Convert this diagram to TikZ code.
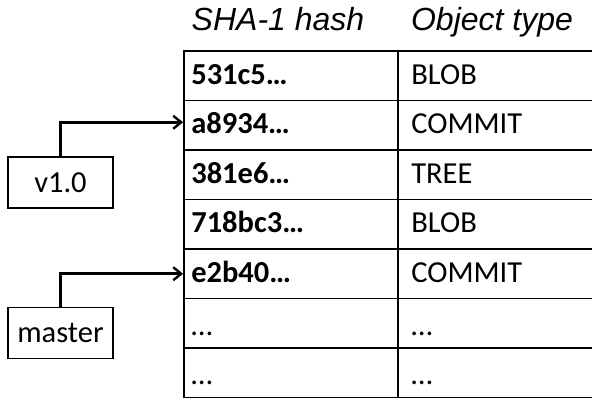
\documentclass[tikz,border=0pt]{standalone}
\usepackage{fontspec}
\setmainfont{Carlito}
\newfontfamily\hdrfont{Liberation Sans}
\usetikzlibrary{arrows.meta}
\begin{document}
\begin{tikzpicture}[x=1pt,y=-1pt,
  cellbox/.style={draw, line width=1.8pt, minimum height=49.5pt, inner sep=0pt},
  hashcell/.style={cellbox, minimum width=214pt},
  typecell/.style={cellbox, minimum width=204pt},
  celltext/.style={anchor=base west, inner sep=0pt, font=\fontsize{30.5}{33}\selectfont},
  hdr/.style={font=\fontsize{32}{36}\selectfont\hdrfont\itshape, inner sep=0pt, anchor=base},
  refbox/.style={draw, line width=1.4pt, minimum width=105pt, minimum height=51pt, inner sep=0pt, font=\fontsize{30.5}{33}\selectfont},
  ptr/.style={line width=2.6pt, -{Straight Barb[length=8pt,width=13pt,line width=2.4pt]}}
]
\useasboundingbox (0,0) rectangle (592,400);
\node[hdr] (hh) at (278,30) {SHA-1 hash};
\node[hdr] (ht) at (492,30) {Object type};
\foreach \i/\h/\t/\dy in {1/\bfseries 531c5…/BLOB/8.5, 2/\bfseries a8934…/COMMIT/8.5, 3/\bfseries 381e6…/TREE/8.5, 4/\bfseries 718bc3…/BLOB/8.5, 5/\bfseries e2b40…/COMMIT/8.5, 6/…/…/12, 7/…/…/12}{
  \node[hashcell] (h\i) at (291,{51+49.5*(\i-0.5)}) {};
  \node[typecell] (t\i) at (500,{51+49.5*(\i-0.5)}) {};
  \node[celltext] (hl\i) at ([xshift=8pt,yshift=-\dy pt]h\i.west) {\h};
  \node[celltext] (tl\i) at ([xshift=14pt,yshift=-\dy pt]t\i.west) {\t};
}
\node[refbox] (v10) at (60.5,182.5) {v1.0};
\node[refbox] (mst) at (60.5,333) {master};
\draw[ptr] (v10.north) |- ([yshift=3pt]h2.west);
\draw[ptr] (mst.north) |- (h5.west);
\end{tikzpicture}
\end{document}
